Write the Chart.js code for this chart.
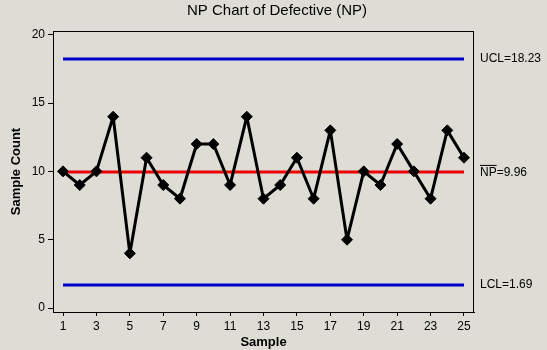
<!DOCTYPE html>
<html>
<head>
<meta charset="utf-8">
<script src="https://cdn.jsdelivr.net/npm/chart.js@4.4.1/dist/chart.umd.min.js"></script>
<style>
  html, body { margin: 0; padding: 0; background: #dddcd5; }
  #wrap { width: 547px; height: 350px; position: relative; }
</style>
</head>
<body>
<div id="wrap"><canvas id="npChart"></canvas></div>
<script>
// defective counts per sample
const samples = [1, 2, 3, 4, 5, 6, 7, 8, 9, 10, 11, 12, 13, 14, 15, 16, 17, 18, 19, 20, 21, 22, 23, 24, 25];
const defective = [10, 9, 10, 14, 4, 11, 9, 8, 12, 12, 9, 14, 8, 9, 11, 8, 13, 5, 10, 9, 12, 10, 8, 13, 11];

// control limits
const ucl = 18.23;
const center = 9.96;
const lcl = 1.69;

const xTicks = [1, 3, 5, 7, 9, 11, 13, 15, 17, 19, 21, 23, 25];
const yTicks = [0, 5, 10, 15, 20];

const FONT = "'Liberation Sans', Arial, sans-serif";

function limitLine(v) {
  return [{ x: samples[0], y: v }, { x: samples[samples.length - 1], y: v }];
}

// frame, titles and limit labels
const decorations = {
  id: "decorations",
  afterDraw(chart) {
    const ctx = chart.ctx;
    const a = chart.chartArea;
    const y = chart.scales.y;
    ctx.save();
    ctx.strokeStyle = "#000";
    ctx.lineWidth = 1;
    ctx.strokeRect(a.left + 0.5, a.top + 0.5, a.right - a.left - 1, a.bottom - a.top);

    ctx.fillStyle = "#000";
    ctx.font = "15px " + FONT;
    ctx.textAlign = "center";
    ctx.textBaseline = "middle";
    ctx.fillText("NP Chart of Defective (NP)", 277, 11);

    ctx.font = "bold 13px " + FONT;
    ctx.fillText("Sample", (a.left + a.right) / 2, 342);
    ctx.save();
    ctx.translate(16, (a.top + a.bottom) / 2);
    ctx.rotate(-Math.PI / 2);
    ctx.fillText("Sample Count", 0, 0);
    ctx.restore();

    ctx.font = "12px " + FONT;
    ctx.textAlign = "left";
    const lx = a.right + 6;
    ctx.fillText("UCL=" + ucl.toFixed(2), lx, y.getPixelForValue(ucl));
    ctx.fillText("LCL=" + lcl.toFixed(2), lx, y.getPixelForValue(lcl));
    const cy = y.getPixelForValue(center) + 1;
    ctx.fillText("NP=" + center.toFixed(2), lx, cy);
    // bar over NP
    const w = ctx.measureText("NP").width;
    ctx.fillRect(lx, cy - 8, w, 1);
    ctx.restore();
  }
};

new Chart(document.getElementById("npChart"), {
  type: "line",
  data: {
    datasets: [
      {
        label: "NP",
        data: samples.map((s, i) => ({ x: s, y: defective[i] })),
        borderColor: "#000",
        backgroundColor: "#000",
        borderWidth: 3,
        borderJoinStyle: "round",
        pointStyle: "rectRot",
        pointRadius: 5.5,
        pointBorderWidth: 1,
        tension: 0,
        order: 0
      },
      { label: "center", data: limitLine(center), borderColor: "#ee0000", borderWidth: 3, pointRadius: 0, order: 1 },
      { label: "UCL", data: limitLine(ucl), borderColor: "#0000cc", borderWidth: 3, pointRadius: 0, order: 1 },
      { label: "LCL", data: limitLine(lcl), borderColor: "#0000cc", borderWidth: 3, pointRadius: 0, order: 1 }
    ]
  },
  options: {
    responsive: true,
    maintainAspectRatio: false,
    animation: false,
    layout: { padding: { top: 31, right: 73, bottom: 0, left: 0 } },
    plugins: { legend: { display: false }, tooltip: { enabled: false }, title: { display: false } },
    scales: {
      x: {
        type: "linear",
        min: 0.4,
        max: 25.6,
        afterFit: (s) => { s.height = 38; },
        afterBuildTicks: (s) => { s.ticks = xTicks.map(v => ({ value: v })); },
        grid: { drawOnChartArea: false, tickLength: 4, color: "#000" },
        border: { display: true, color: "#000" },
        ticks: { color: "#000", font: { family: FONT, size: 12 }, padding: 3, maxRotation: 0, autoSkip: false }
      },
      y: {
        min: -0.29,
        max: 20.27,
        afterFit: (s) => { s.width = 53; },
        afterBuildTicks: (s) => { s.ticks = yTicks.map(v => ({ value: v })); },
        grid: { drawOnChartArea: false, tickLength: 5, color: "#000" },
        border: { display: true, color: "#000" },
        ticks: { color: "#000", font: { family: FONT, size: 12 }, padding: 3 }
      }
    }
  },
  plugins: [decorations]
});
</script>
</body>
</html>
